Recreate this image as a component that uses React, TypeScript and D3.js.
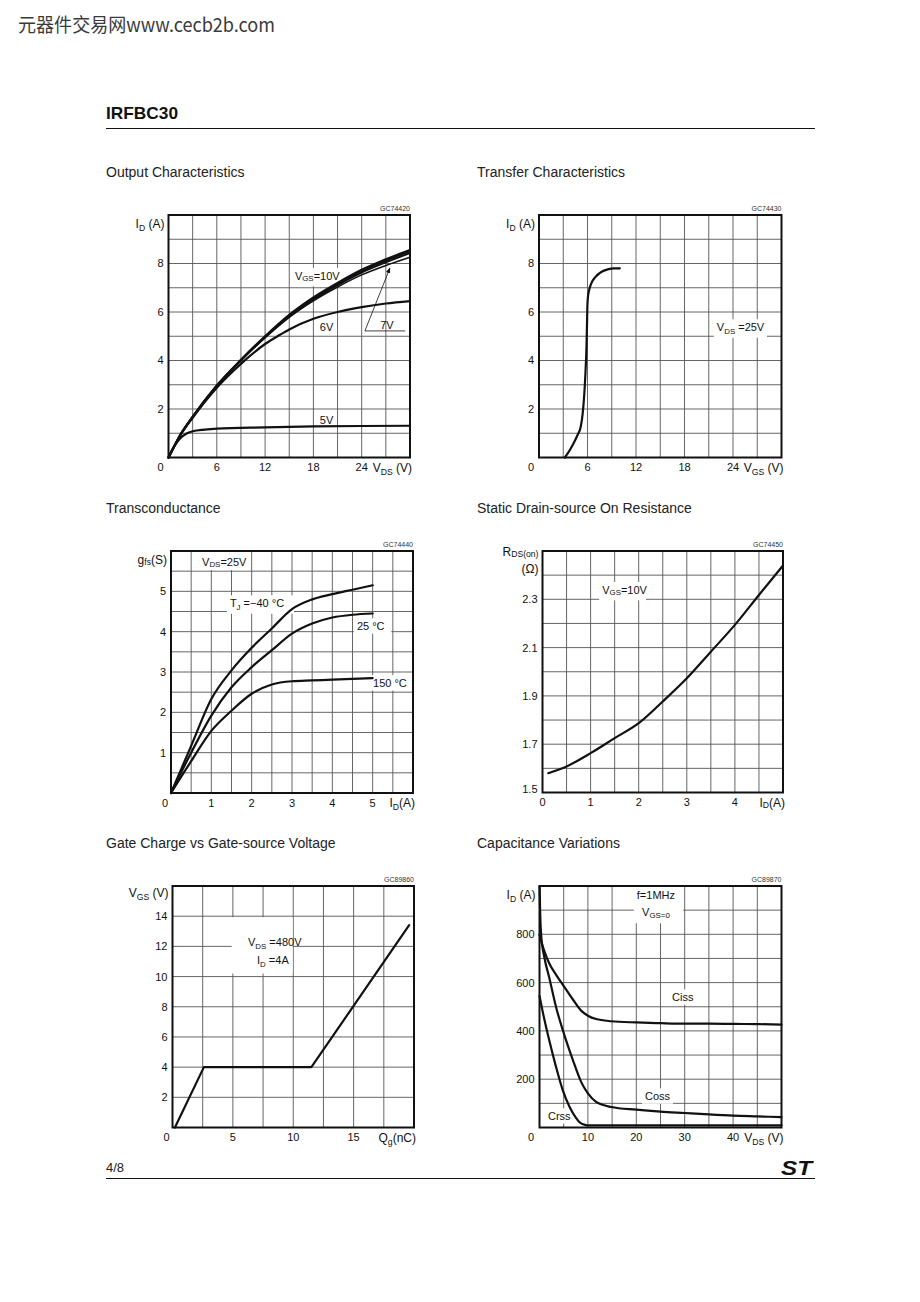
import React from "react";
import * as d3 from "d3";

type Pt = [number, number];
type Part = string | { s: string; dy?: number };

// Output characteristics: V_DS (V) -> I_D (A)
const outXTicks = [6, 12, 18, 24];
const outYTicks = [2, 4, 6, 8];
const out10V: Pt[] = [[0, 0], [1.5, 0.95], [3, 1.68], [6, 2.97], [9, 4.03], [12, 5.0], [15, 5.88], [18, 6.6], [21, 7.2], [24, 7.74], [27, 8.17], [30, 8.56]];
const out9V: Pt[] = [[0, 0], [1.5, 0.95], [3, 1.68], [6, 2.96], [9, 4.02], [12, 4.98], [15, 5.85], [18, 6.56], [21, 7.16], [24, 7.69], [27, 8.12], [30, 8.5]];
const out8V: Pt[] = [[0, 0], [1.5, 0.95], [3, 1.67], [6, 2.95], [9, 4.0], [12, 4.96], [15, 5.82], [18, 6.52], [21, 7.11], [24, 7.63], [27, 8.05], [30, 8.43]];
const out7V: Pt[] = [[0, 0], [1.5, 0.95], [3, 1.67], [6, 2.94], [9, 3.99], [12, 4.94], [15, 5.78], [18, 6.46], [21, 7.03], [24, 7.53], [27, 7.92], [30, 8.26]];
const out6V: Pt[] = [[0, 0], [1.5, 0.93], [3, 1.64], [6, 2.88], [9, 3.86], [12, 4.68], [13.85, 5.06], [15, 5.28], [18, 5.72], [21, 6.0], [24, 6.2], [27, 6.35], [30, 6.45]];
const out5V: Pt[] = [[0, 0], [0.75, 0.48], [1.5, 0.8], [2.25, 0.99], [3, 1.08], [4.5, 1.15], [6, 1.19], [12, 1.24], [18, 1.28], [24, 1.3], [30, 1.31]];

// Transfer characteristics: V_GS (V) -> I_D (A)
const trXTicks = [6, 12, 18, 24];
const trYTicks = [2, 4, 6, 8];
const transfer: Pt[] = [[3.2, 0], [3.8, 0.3], [4.3, 0.6], [4.8, 0.95], [5.15, 1.25], [5.4, 1.8], [5.6, 2.6], [5.75, 3.5], [5.87, 4.5], [5.94, 5.5], [5.98, 6.2], [6.05, 6.6], [6.2, 6.9], [6.5, 7.2], [7.0, 7.45], [7.7, 7.65], [8.5, 7.76], [9.3, 7.8], [10, 7.8]];

// Transconductance: I_D (A) -> g_fs (S)
const gfsXTicks = [1, 2, 3, 4, 5];
const gfsYTicks = [1, 2, 3, 4, 5];
const gfsM40: Pt[] = [[0, 0], [0.5, 1.17], [1, 2.33], [1.5, 3.04], [2, 3.6], [2.5, 4.08], [3, 4.56], [3.5, 4.8], [4, 4.93], [4.5, 5.04], [5, 5.15]];
const gfs25: Pt[] = [[0, 0], [0.5, 1.0], [1, 1.92], [1.5, 2.62], [2, 3.12], [2.5, 3.54], [3, 3.95], [3.5, 4.2], [4, 4.35], [4.5, 4.42], [5, 4.45]];
const gfs150: Pt[] = [[0, 0], [0.5, 0.79], [1, 1.54], [1.5, 2.04], [2, 2.46], [2.5, 2.69], [3, 2.77], [3.5, 2.79], [4, 2.81], [4.5, 2.83], [5, 2.85]];

// Static drain-source on resistance: I_D (A) -> R_DS(on) (ohm)
const rdsXTicks = [1, 2, 3, 4];
const rdsYTicks = [1.5, 1.7, 1.9, 2.1, 2.3];
const rdsOn: Pt[] = [[0.12, 1.58], [0.5, 1.608], [1.0, 1.663], [1.5, 1.725], [2.0, 1.787], [2.5, 1.877], [3.0, 1.973], [3.5, 2.083], [4.0, 2.194], [4.5, 2.318], [5.0, 2.44]];

// Gate charge: Q_g (nC) -> V_GS (V)
const qgXTicks = [5, 10, 15];
const qgYTicks = [2, 4, 6, 8, 10, 12, 14];
const gateCharge: Pt[] = [[0.2, 0], [2.6, 4], [11.5, 4], [19.6, 13.4]];

// Capacitance variations: V_DS (V) -> C (pF)
const capXTicks = [10, 20, 30, 40];
const capYTicks = [200, 400, 600, 800];
const ciss: Pt[] = [[0, 800], [0.5, 762], [1, 730], [2, 680], [3.5, 630], [4.8, 592], [6.9, 530], [8.6, 484], [10, 463], [11.7, 449], [14.8, 440], [20, 435], [25, 432], [30, 430], [35, 430], [40, 429], [45, 428], [50, 426]];
const coss: Pt[] = [[0.02, 1000], [0.15, 880], [0.35, 795], [1, 705], [2, 622], [3.4, 500], [4.8, 404], [6.9, 279], [8.6, 189], [10, 141], [11.7, 106], [14.8, 85], [20, 74], [25, 66], [30, 60], [35, 54], [40, 49], [45, 46], [50, 43]];
const crss: Pt[] = [[0, 545], [1, 448], [2, 362], [3.4, 252], [4.8, 155], [6.2, 86], [7.5, 41], [8.2, 23], [9.6, 10], [10, 9], [20, 9], [30, 9], [40, 9], [50, 9]];

const FONT = "'Liberation Sans', Arial, Helvetica, sans-serif";
const INK = "#111";

function Rich({ x, y, parts, size = 11, anchor = "start", bg = false }: {
  x: number; y: number; parts: Part[]; size?: number; anchor?: string; bg?: boolean;
}) {
  let shift = 0;
  let w = 0;
  let hasSub = false;
  const spans = parts.map((p, i) => {
    if (typeof p === "string") {
      const dy = -shift;
      shift = 0;
      w += p.length * size * 0.57;
      return <tspan key={i} dy={dy || undefined} fontSize={size}>{p}</tspan>;
    }
    const d = p.dy ?? 3;
    const dy = d - shift;
    shift = d;
    hasSub = true;
    w += p.s.length * size * 0.72 * 0.6;
    return <tspan key={i} dy={dy} fontSize={size * 0.72}>{p.s}</tspan>;
  });
  const x0 = anchor === "end" ? x - w : anchor === "middle" ? x - w / 2 : x;
  return (
    <g>
      {bg && (
        <rect x={x0 - 3} y={y - size * 0.7} width={w + 6} height={size * 1.4 + (hasSub ? 3 : 0)} fill="#fff" />
      )}
      <text x={x} y={y + size * 0.36} textAnchor={anchor as any} fontFamily={FONT} fill={INK}>
        {spans}
      </text>
    </g>
  );
}

type Series = { data: Pt[]; width?: number; linear?: boolean };
type Scale = d3.ScaleLinear<number, number>;

type ChartProps = {
  box: [number, number, number, number];
  xDom: [number, number];
  yDom: [number, number];
  xDiv: number;
  yDiv: number;
  xTicks: number[];
  yTicks: number[];
  fmtY?: (v: number) => string;
  zeroDx: number;
  code: string;
  xTitle: Part[];
  yTitle: Part[][];
  yTitleDy?: number;
  series: Series[];
  notes?: (x: Scale, y: Scale) => React.ReactNode;
};

function Chart(p: ChartProps) {
  const [l, t, r, b] = p.box;
  const x = d3.scaleLinear().domain(p.xDom).range([l, r]);
  const y = d3.scaleLinear().domain(p.yDom).range([b, t]);
  const gx = d3.range(p.xDiv + 1).map(i => p.xDom[0] + (i * (p.xDom[1] - p.xDom[0])) / p.xDiv);
  const gy = d3.range(p.yDiv + 1).map(i => p.yDom[0] + (i * (p.yDom[1] - p.yDom[0])) / p.yDiv);
  const fmtY = p.fmtY ?? ((v: number) => String(v));
  return (
    <g>
      {gx.map((v, i) => (
        <line key={"gx" + i} x1={x(v)} x2={x(v)} y1={t} y2={b} stroke="#555" strokeWidth={0.9} />
      ))}
      {gy.map((v, i) => (
        <line key={"gy" + i} x1={l} x2={r} y1={y(v)} y2={y(v)} stroke="#555" strokeWidth={0.9} />
      ))}
      {p.notes && p.notes(x, y)}
      {p.series.map((s, i) => {
        const line = d3.line<Pt>()
          .x(d => x(d[0]))
          .y(d => y(d[1]))
          .curve(s.linear ? d3.curveLinear : d3.curveMonotoneX);
        return (
          <path key={"s" + i} d={line(s.data) ?? ""} fill="none" stroke={INK}
            strokeWidth={s.width ?? 2.2} strokeLinejoin="round" strokeLinecap="round" />
        );
      })}
      <rect x={l} y={t} width={r - l} height={b - t} fill="none" stroke={INK} strokeWidth={2} />
      {p.yTicks.map(v => (
        <Rich key={"yt" + v} x={l - 5} y={v === p.yDom[0] ? y(v) - 3 : y(v)} parts={[fmtY(v)]} anchor="end" />
      ))}
      {p.xTicks.map(v => (
        <Rich key={"xt" + v} x={x(v)} y={b + 10} parts={[String(v)]} anchor="middle" />
      ))}
      <Rich x={l + p.zeroDx} y={b + 10} parts={["0"]} anchor="middle" />
      <Rich x={r + 2} y={b + 10} parts={p.xTitle} anchor="end" size={12} />
      {p.yTitle.map((parts, i) => (
        <Rich key={"ytt" + i} x={l - 4} y={t + (p.yTitleDy ?? 9) + i * 17} parts={parts} anchor="end" size={12} />
      ))}
      <text x={r} y={t - 4} textAnchor="end" fontFamily={FONT} fontSize={7} fill="#333">{p.code}</text>
    </g>
  );
}

function Title({ x, y, text }: { x: number; y: number; text: string }) {
  return <text x={x} y={y} fontFamily={FONT} fontSize={14} fill="#222">{text}</text>;
}

export default function App() {
  return (
    <svg width={920} height={1302} style={{ position: "absolute", left: 0, top: 0, background: "#fff" }}>
      <defs>
        <marker id="arr" viewBox="0 0 10 10" refX="9" refY="5" markerWidth="7" markerHeight="7" orient="auto">
          <path d="M0,1 L10,5 L0,9 z" fill={INK} />
        </marker>
      </defs>
      <rect width={920} height={1302} fill="#fff" />
      <text x={18} y={32} fontFamily="'Noto Sans CJK SC', sans-serif" fontSize={19} fill="#3a3a3a"
        textLength={257} lengthAdjust="spacingAndGlyphs">元器件交易网www.cecb2b.com</text>
      <text x={106} y={119} fontFamily={FONT} fontSize={17} fontWeight="bold" fill="#111"
        textLength={72} lengthAdjust="spacingAndGlyphs">IRFBC30</text>
      <line x1={106} x2={815} y1={128.5} y2={128.5} stroke="#111" strokeWidth={1.2} />

      <Title x={106} y={177} text="Output Characteristics" />
      <Title x={477} y={177} text="Transfer Characteristics" />
      <Title x={106} y={513} text="Transconductance" />
      <Title x={477} y={513} text="Static Drain-source On Resistance" />
      <Title x={106} y={848} text="Gate Charge vs Gate-source Voltage" />
      <Title x={477} y={848} text="Capacitance Variations" />

      <Chart
        box={[168.5, 215, 410, 457.5]} xDom={[0, 30]} yDom={[0, 10]} xDiv={10} yDiv={10}
        xTicks={outXTicks} yTicks={outYTicks} zeroDx={-8} code="GC74420"
        xTitle={["V", { s: "DS" }, " (V)"]} yTitle={[["I", { s: "D" }, " (A)"]]}
        series={[
          { data: out5V }, { data: out6V }, { data: out7V, width: 1.5 },
          { data: out8V, width: 2 }, { data: out9V, width: 2 }, { data: out10V, width: 2.2 },
        ]}
        notes={(x, y) => (
          <g>
            <Rich x={x(15.7)} y={y(7.5)} parts={["V", { s: "GS", dy: 1 }, "=10V"]} bg />
            <Rich x={x(18.8)} y={y(5.38)} parts={["6V"]} />
            <Rich x={x(18.8)} y={y(1.55)} parts={["5V"]} />
            <Rich x={x(26.3)} y={y(5.46)} parts={["7V"]} />
            <line x1={x(24.4)} y1={y(5.22)} x2={x(29.4)} y2={y(5.22)} stroke={INK} strokeWidth={0.8} />
            <line x1={x(24.4)} y1={y(5.22)} x2={x(27.5)} y2={y(7.81)} stroke={INK} strokeWidth={0.8} markerEnd="url(#arr)" />
          </g>
        )}
      />

      <Chart
        box={[539, 215, 781.5, 457.5]} xDom={[0, 30]} yDom={[0, 10]} xDiv={10} yDiv={10}
        xTicks={trXTicks} yTicks={trYTicks} zeroDx={-8} code="GC74430"
        xTitle={["V", { s: "GS" }, " (V)"]} yTitle={[["I", { s: "D" }, " (A)"]]}
        series={[{ data: transfer }]}
        notes={(x, y) => (
          <Rich x={x(22.0)} y={y(5.38)} parts={["V", { s: "DS" }, " =25V"]} bg />
        )}
      />

      <Chart
        box={[171, 551, 413, 793]} xDom={[0, 6]} yDom={[0, 6]} xDiv={12} yDiv={12}
        xTicks={gfsXTicks} yTicks={gfsYTicks} zeroDx={-6} code="GC74440"
        xTitle={["I", { s: "D" }, "(A)"]} yTitle={[["g", { s: "fs", dy: 1 }, "(S)"]]}
        series={[{ data: gfsM40 }, { data: gfs25 }, { data: gfs150 }]}
        notes={(x, y) => (
          <g>
            <rect x={x(0.5) + 1} y={y(6) + 1} width={x(2) - x(0.5) - 2} height={y(5.5) - y(6) - 2} fill="#fff" />
            <Rich x={x(0.77)} y={y(5.73)} parts={["V", { s: "DS", dy: 1 }, "=25V"]} />
            <Rich x={x(1.46)} y={y(4.71)} parts={["T", { s: "J" }, " =−40 °C"]} bg />
            <Rich x={x(4.61)} y={y(4.14)} parts={["25 °C"]} bg />
            <Rich x={x(5.01)} y={y(2.73)} parts={["150 °C"]} bg />
          </g>
        )}
      />

      <Chart
        box={[542.5, 551, 783, 792.5]} xDom={[0, 5]} yDom={[1.5, 2.5]} xDiv={10} yDiv={10}
        xTicks={rdsXTicks} yTicks={rdsYTicks} fmtY={v => v.toFixed(1)} zeroDx={0} code="GC74450"
        xTitle={["I", { s: "D", dy: 1 }, "(A)"]}
        yTitle={[["R", { s: "DS(on)", dy: 1 }], ["(Ω)"]]} yTitleDy={1}
        series={[{ data: rdsOn }]}
        notes={(x, y) => (
          <Rich x={x(1.24)} y={y(2.34)} parts={["V", { s: "GS", dy: 1 }, "=10V"]} bg />
        )}
      />

      <Chart
        box={[172.5, 886, 414, 1127.5]} xDom={[0, 20]} yDom={[0, 16]} xDiv={8} yDiv={8}
        xTicks={qgXTicks} yTicks={qgYTicks} zeroDx={-6} code="GC89860"
        xTitle={["Q", { s: "g" }, "(nC)"]} yTitle={[["V", { s: "GS" }, " (V)"]]} yTitleDy={7}
        series={[{ data: gateCharge, linear: true }]}
        notes={(x, y) => (
          <g>
            <rect x={x(4.9)} y={y(14) + 1} width={x(9.95) - x(4.9)} height={y(10.2) - y(14) - 1} fill="#fff" />
            <Rich x={x(6.25)} y={y(12.3)} parts={["V", { s: "DS" }, " =480V"]} />
            <Rich x={x(7.0)} y={y(11.1)} parts={["I", { s: "D" }, " =4A"]} />
          </g>
        )}
      />

      <Chart
        box={[539.5, 886, 781.5, 1127.5]} xDom={[0, 50]} yDom={[0, 1000]} xDiv={10} yDiv={10}
        xTicks={capXTicks} yTicks={capYTicks} zeroDx={-8.5} code="GC89870"
        xTitle={["V", { s: "DS" }, " (V)"]} yTitle={[["I", { s: "D" }, " (A)"]]}
        series={[{ data: ciss }, { data: coss }, { data: crss }]}
        notes={(x, y) => (
          <g>
            <rect x={x(19.5)} y={y(1000) + 1} width={x(30) - x(19.5) - 1.5} height={y(850) - y(1000)} fill="#fff" />
            <Rich x={x(20.1)} y={y(963)} parts={["f=1MHz"]} />
            <Rich x={x(21.2)} y={y(892)} parts={["V", { s: "GS=0", dy: 2 }]} />
            <Rich x={x(27.4)} y={y(540)} parts={["Ciss"]} bg />
            <Rich x={x(21.8)} y={y(130)} parts={["Coss"]} bg />
            <Rich x={x(1.75)} y={y(48)} parts={["Crss"]} bg />
          </g>
        )}
      />

      <text x={106} y={1172} fontFamily={FONT} fontSize={13} fill="#222">4/8</text>
      <text x={781} y={1175} fontFamily={FONT} fontSize={21} fontWeight="bold" fontStyle="italic" fill="#111"
        textLength={31} lengthAdjust="spacingAndGlyphs">ST</text>
      <line x1={106} x2={815} y1={1178.5} y2={1178.5} stroke="#111" strokeWidth={1.2} />
    </svg>
  );
}
